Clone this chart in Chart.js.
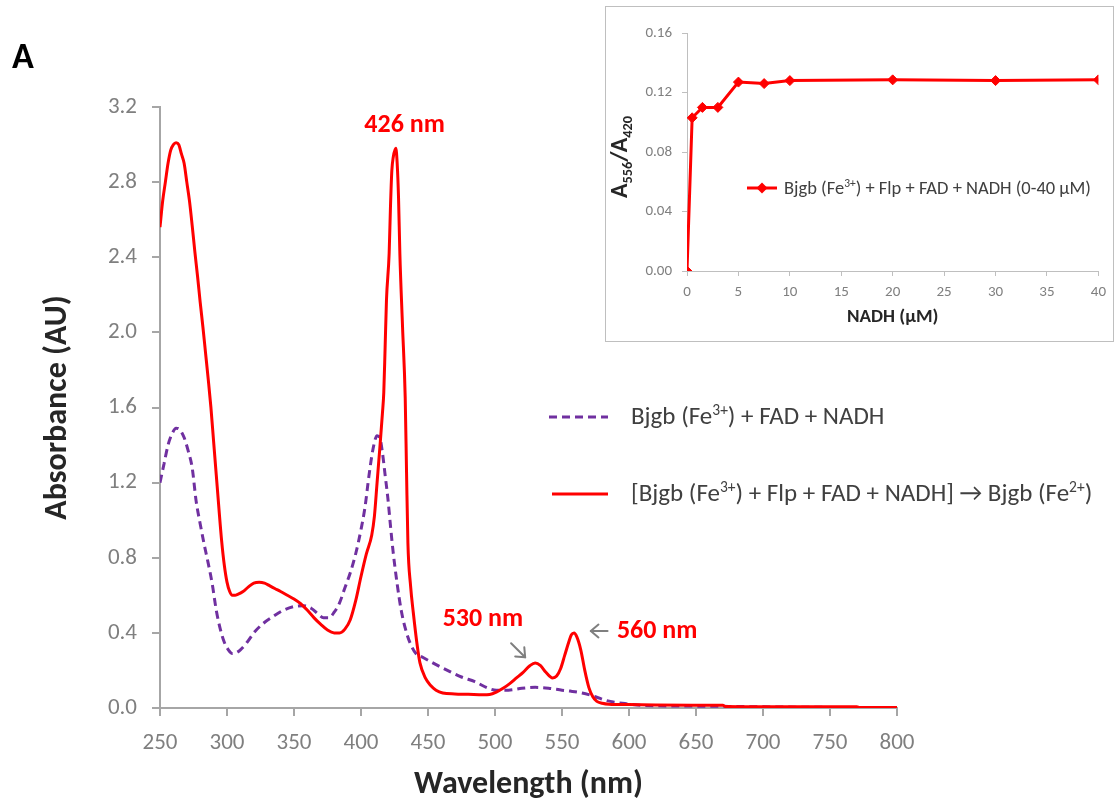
<!DOCTYPE html>
<html><head><meta charset="utf-8">
<script src="https://cdn.jsdelivr.net/npm/chart.js@4.4.0/dist/chart.umd.min.js"></script>
<style>
html,body{margin:0;padding:0;background:#fff;}
#wrap{position:relative;width:1115px;height:811px;overflow:hidden;}
#main{position:absolute;left:0;top:0;}
#insetBox{position:absolute;left:605px;top:6px;width:507px;height:334px;border:1px solid #bfbfbf;background:#fff;}
#inset{display:block;}
</style></head><body>
<div id="wrap">
<canvas id="main" width="1115" height="811"></canvas>
<div id="insetBox"><canvas id="inset" width="507" height="334"></canvas></div>
</div>
<script>
// ---------- data ----------
const redWavelength = [250,252,254,256,258,260,262,264,266,268,270,272,274,276,278,280,282,284,286,288,290,292,294,296,298,300,302,304,306,308,312,316,320,324,328,332,336,340,345,350,355,360,365,370,375,380,384,388,392,396,400,404,408,410,412,414,416,417,418,419,421,422,423,424,426,427,428,429,431,433,434,435,437,439,442,444,448,452,456,461,470,480,491,496,501,506,511,516,521,526,530,534,538,543,546,549,552,555,557,559,561,564,567,570,573,576,580,585,600,620,650,670,672,700,750,770,772,800];
const redAbsorbance = [2.56,2.70,2.80,2.90,2.97,3.00,3.01,3.00,2.95,2.90,2.80,2.70,2.57,2.43,2.30,2.16,2.03,1.89,1.75,1.60,1.42,1.24,1.06,0.89,0.76,0.67,0.62,0.60,0.60,0.605,0.62,0.645,0.665,0.67,0.665,0.65,0.635,0.62,0.60,0.58,0.555,0.52,0.48,0.445,0.415,0.40,0.40,0.42,0.47,0.57,0.70,0.82,0.92,1.02,1.20,1.38,1.57,1.68,1.92,2.17,2.42,2.67,2.86,2.93,2.98,2.90,2.72,2.42,2.03,1.65,1.25,0.88,0.65,0.51,0.33,0.24,0.16,0.12,0.095,0.08,0.075,0.073,0.07,0.072,0.085,0.105,0.13,0.16,0.19,0.225,0.24,0.225,0.19,0.16,0.17,0.21,0.28,0.35,0.39,0.40,0.38,0.31,0.20,0.11,0.06,0.035,0.025,0.02,0.018,0.016,0.015,0.015,0.008,0.007,0.006,0.006,0.002,0.002];

const purpleWavelength = [250,253,256,259,262,265,268,271,274,277,280,283,286,289,292,295,298,301,304,307,310,315,320,327,335,342,350,357,363,368,372,376,380,384,388,392,396,400,403,406,409,412,414,416,418,420,422,424,427,430,434,437,441,446,455,466,475,485,495,501,510,520,530,540,550,556,565,575,583,595,606,620,650,680,700,750,800];
const purpleAbsorbance = [1.20,1.30,1.40,1.46,1.49,1.48,1.44,1.37,1.28,1.10,0.98,0.87,0.77,0.66,0.52,0.42,0.35,0.31,0.29,0.295,0.31,0.35,0.40,0.45,0.49,0.52,0.54,0.545,0.53,0.50,0.48,0.48,0.51,0.56,0.64,0.72,0.82,0.95,1.07,1.24,1.38,1.45,1.44,1.36,1.24,1.12,0.97,0.83,0.66,0.52,0.40,0.34,0.29,0.27,0.235,0.195,0.165,0.14,0.105,0.095,0.095,0.105,0.11,0.105,0.095,0.09,0.08,0.06,0.04,0.025,0.016,0.012,0.01,0.008,0.006,0.003,0.0];

const nadhConc = [0,0.5,1.5,3,5,7.5,10,20,30,40];
const ratioA556A420 = [0,0.103,0.110,0.110,0.127,0.126,0.128,0.1285,0.128,0.1285];

const purpleLabel = [['Bjgb (Fe',0],['3+',1],[') + FAD + NADH',0]];
const redLabel = [['[Bjgb (Fe',0],['3+',1],[') + Flp + FAD + NADH] \u2192 Bjgb (Fe',0],['2+',1],[')',0]];
const insetLabel = [['Bjgb (Fe',0],['3+',1],[') + Flp + FAD + NADH (0-40 \u03bcM)',0]];
const insetYTitle = [['A',0],['556',-1],['/A',0],['420',-1]];
const peakLabels = [{text:'426 nm', x:432.5, y:3.10},{text:'530 nm', x:491, y:0.47},{text:'560 nm', x:621, y:0.405}];

// ---------- helpers ----------
const FONT = "Carlito, Lato, 'Open Sans', sans-serif";
const zip = (xs, ys) => xs.map((x,i)=>({x, y:ys[i]}));

function richWidth(ctx, parts, size, weight, f){
  let w=0;
  for (const [t,m] of parts){ const s=m?size*f:size; ctx.font=`${weight} ${s}px ${FONT}`; w+=ctx.measureText(t).width; }
  return w;
}
function drawRich(ctx, x, y, parts, size, color, weight, f){
  let cx=x;
  ctx.textAlign='left'; ctx.textBaseline='alphabetic'; ctx.fillStyle=color;
  for (const [t,m] of parts){
    const s=m?size*f:size;
    ctx.font=`${weight} ${s}px ${FONT}`;
    const dy = m===1 ? -size*0.36 : (m===-1 ? size*0.22 : 0);
    ctx.fillText(t, cx, y+dy);
    cx+=ctx.measureText(t).width;
  }
}
function arrow(ctx, x1,y1,x2,y2){
  ctx.save();
  ctx.strokeStyle='#7f7f7f'; ctx.lineWidth=2; ctx.lineCap='round'; ctx.lineJoin='round';
  ctx.beginPath(); ctx.moveTo(x1,y1); ctx.lineTo(x2,y2); ctx.stroke();
  const a=Math.atan2(y2-y1,x2-x1), h=10;
  ctx.beginPath();
  ctx.moveTo(x2-h*Math.cos(a-0.7), y2-h*Math.sin(a-0.7));
  ctx.lineTo(x2,y2);
  ctx.lineTo(x2-h*Math.cos(a+0.7), y2-h*Math.sin(a+0.7));
  ctx.stroke();
  ctx.restore();
}

// ---------- main chart ----------
const mainPlugin = {
  id:'mainDecor',
  afterDraw(chart){
    const ctx=chart.ctx, xs=chart.scales.x, ys=chart.scales.y;
    ctx.save();
    ctx.fillStyle='#000'; ctx.font=`bold 36px ${FONT}`; ctx.textAlign='left'; ctx.textBaseline='alphabetic';
    ctx.fillText('A', 12, 68);
    ctx.fillStyle='#ff0000'; ctx.font=`bold 26px ${FONT}`; ctx.textAlign='center'; ctx.textBaseline='middle';
    for (const p of peakLabels) ctx.fillText(p.text, xs.getPixelForValue(p.x), ys.getPixelForValue(p.y));
    arrow(ctx, xs.getPixelForValue(512), ys.getPixelForValue(0.345), xs.getPixelForValue(522.5), ys.getPixelForValue(0.27));
    arrow(ctx, xs.getPixelForValue(584), ys.getPixelForValue(0.41), xs.getPixelForValue(571.5), ys.getPixelForValue(0.41));
    ctx.lineWidth=3;
    ctx.strokeStyle='#7030a0'; ctx.setLineDash([8,5]);
    ctx.beginPath(); ctx.moveTo(549,417); ctx.lineTo(608,417); ctx.stroke();
    ctx.setLineDash([]); ctx.strokeStyle='#ff0000';
    ctx.beginPath(); ctx.moveTo(552,494); ctx.lineTo(608,494); ctx.stroke();
    drawRich(ctx, 631, 424, purpleLabel, 25, '#404040', 'normal', 0.62);
    drawRich(ctx, 631, 501, redLabel, 25, '#404040', 'normal', 0.62);
    ctx.restore();
  }
};

new Chart(document.getElementById('main').getContext('2d'), {
  type:'line',
  data:{datasets:[
    {label:'red', data:zip(redWavelength, redAbsorbance), borderColor:'#ff0000', borderWidth:3, pointRadius:0, cubicInterpolationMode:'monotone', fill:false, order:0},
    {label:'purple', data:zip(purpleWavelength, purpleAbsorbance), borderColor:'#7030a0', borderWidth:3, borderDash:[8,5], pointRadius:0, cubicInterpolationMode:'monotone', fill:false, order:1}
  ]},
  options:{
    responsive:false, animation:false, devicePixelRatio:1,
    layout:{padding:{top:107,right:218,bottom:0,left:0}},
    plugins:{legend:{display:false}, tooltip:{enabled:false}},
    scales:{
      x:{type:'linear', min:250, max:800,
         ticks:{stepSize:50, color:'#7f7f7f', font:{family:FONT,size:23}, padding:13, maxRotation:0, autoSkip:false},
         grid:{drawOnChartArea:false, drawTicks:true, tickLength:8, color:'#a6a6a6', lineWidth:2},
         border:{display:true, color:'#a6a6a6', width:2},
         title:{display:true, text:'Wavelength (nm)', color:'#262626', font:{family:FONT,size:32,weight:'bold'}, padding:{top:4,bottom:7}},
         afterFit(s){ s.height=103; }},
      y:{type:'linear', min:0, max:3.2,
         ticks:{stepSize:0.4, color:'#7f7f7f', font:{family:FONT,size:23}, padding:15, callback:v=>Number(v).toFixed(1)},
         grid:{drawOnChartArea:false, drawTicks:true, tickLength:8, color:'#a6a6a6', lineWidth:2},
         border:{display:true, color:'#a6a6a6', width:2},
         title:{display:true, text:'Absorbance (AU)', color:'#262626', font:{family:FONT,size:32,weight:'bold'}, padding:{top:39,bottom:4}},
         afterFit(s){ s.width=160; }}
    }
  },
  plugins:[mainPlugin]
});

// ---------- inset chart ----------
const insetPlugin = {
  id:'insetDecor',
  afterDraw(chart){
    const ctx=chart.ctx;
    ctx.save();
    const w = richWidth(ctx, insetYTitle, 24, 'bold', 0.6);
    ctx.translate(21, 150);
    ctx.rotate(-Math.PI/2);
    drawRich(ctx, -w/2, 0, insetYTitle, 24, '#262626', 'bold', 0.6);
    ctx.restore();
    ctx.save();
    ctx.strokeStyle='#ff0000'; ctx.lineWidth=3;
    ctx.beginPath(); ctx.moveTo(141,181); ctx.lineTo(171,181); ctx.stroke();
    ctx.fillStyle='#ff0000';
    ctx.beginPath(); ctx.moveTo(156,175.5); ctx.lineTo(161.5,181); ctx.lineTo(156,186.5); ctx.lineTo(150.5,181); ctx.closePath(); ctx.fill();
    drawRich(ctx, 178, 187, insetLabel, 18.5, '#404040', 'normal', 0.62);
    ctx.restore();
  }
};

new Chart(document.getElementById('inset').getContext('2d'), {
  type:'line',
  data:{datasets:[
    {label:'ratio', data:zip(nadhConc, ratioA556A420), borderColor:'#ff0000', backgroundColor:'#ff0000', borderWidth:3, pointStyle:'rectRot', pointRadius:5, pointBorderWidth:1, tension:0, fill:false}
  ]},
  options:{
    responsive:false, animation:false, devicePixelRatio:1,
    layout:{padding:{top:26,right:14,bottom:0,left:0}},
    plugins:{legend:{display:false}, tooltip:{enabled:false}},
    scales:{
      x:{type:'linear', min:0, max:40,
         ticks:{stepSize:5, color:'#7f7f7f', font:{family:FONT,size:15}, padding:7, maxRotation:0, autoSkip:false},
         grid:{drawOnChartArea:false, drawTicks:true, tickLength:5, color:'#bfbfbf', lineWidth:1},
         border:{display:true, color:'#bfbfbf', width:1},
         title:{display:true, text:'NADH (\u03bcM)', color:'#262626', font:{family:FONT,size:19,weight:'bold'}, padding:{top:4,bottom:12}},
         afterFit(s){ s.height=70; }},
      y:{type:'linear', min:0, max:0.16,
         ticks:{stepSize:0.04, color:'#7f7f7f', font:{family:FONT,size:15}, padding:10, callback:v=>Number(v).toFixed(2)},
         grid:{drawOnChartArea:false, drawTicks:true, tickLength:5, color:'#bfbfbf', lineWidth:1},
         border:{display:true, color:'#bfbfbf', width:1},
         title:{display:false},
         afterFit(s){ s.width=81; }}
    }
  },
  plugins:[insetPlugin]
});
</script>
</body></html>
